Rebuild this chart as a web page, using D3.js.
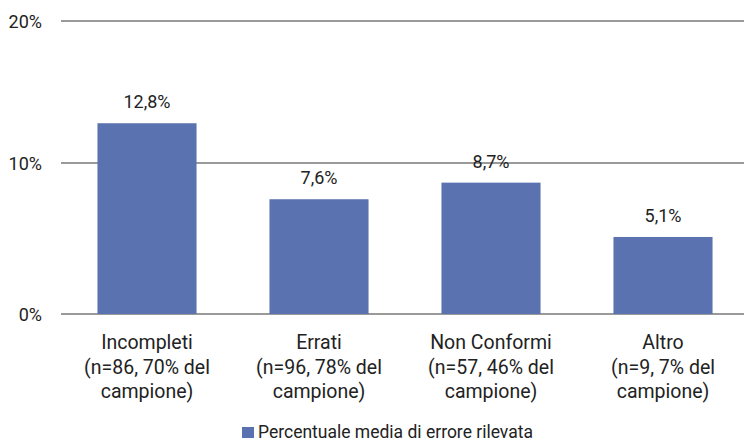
<!DOCTYPE html>
<html>
<head>
<meta charset="utf-8">
<script src="https://cdn.jsdelivr.net/npm/d3@7"></script>
<style>
  html, body { margin: 0; padding: 0; background: #fff; }
  svg text { font-family: Roboto, "Noto Sans", sans-serif; fill: #222; }
</style>
</head>
<body>
<svg id="chart" width="744" height="442"></svg>
<script>
const categories = [
  ["Incompleti", "(n=86, 70% del", "campione)"],
  ["Errati", "(n=96, 78% del", "campione)"],
  ["Non Conformi", "(n=57, 46% del", "campione)"],
  ["Altro", "(n=9, 7% del", "campione)"]
];
const values = [12.8, 7.6, 8.7, 5.1];
const valueLabels = ["12,8%", "7,6%", "8,7%", "5,1%"];
const yTicks = [0, 10, 20];
const yTickLabels = ["0%", "10%", "20%"];
const seriesName = "Percentuale media di errore rilevata";

const svg = d3.select("#chart");
const keys = categories.map((c, i) => i);

const x = d3.scaleBand().domain(keys).range([61, 749]).paddingInner(0.424).paddingOuter(0.212);
const y = d3.scaleLinear().domain([0, 10, 20]).range([314, 163, 21]);

// gridlines
svg.append("g").selectAll("line").data(yTicks).join("line")
  .attr("x1", 61).attr("x2", 744)
  .attr("y1", d => y(d)).attr("y2", d => y(d))
  .attr("stroke", "#9a9a9a").attr("stroke-width", 2);

// y labels
svg.append("g").selectAll("text").data(yTicks).join("text")
  .attr("x", 42).attr("y", d => y(d) + 6.5)
  .attr("text-anchor", "end").attr("font-size", 18)
  .text((d, i) => yTickLabels[i]);

// bars
svg.append("g").selectAll("rect").data(values).join("rect")
  .attr("x", (d, i) => x(i)).attr("width", x.bandwidth())
  .attr("y", d => y(d)).attr("height", d => y(0) - y(d))
  .attr("fill", "#5a73b0");

// value labels
svg.append("g").selectAll("text").data(values).join("text")
  .attr("x", (d, i) => x(i) + x.bandwidth() / 2)
  .attr("y", d => y(d) - 15)
  .attr("text-anchor", "middle").attr("font-size", 18)
  .text((d, i) => valueLabels[i]);

// category labels
const cat = svg.append("g").selectAll("text").data(categories).join("text")
  .attr("text-anchor", "middle").attr("font-size", 19.5);
cat.each(function(lines, i) {
  d3.select(this).selectAll("tspan").data(lines).join("tspan")
    .attr("x", x(i) + x.bandwidth() / 2)
    .attr("y", (d, j) => 349 + j * 24.5)
    .text(d => d);
});

// legend
const lg = svg.append("g");
lg.append("rect").attr("x", 242).attr("y", 427).attr("width", 12).attr("height", 11).attr("fill", "#5a73b0");
lg.append("text").attr("x", 258).attr("y", 438).attr("font-size", 17.5).text(seriesName);
</script>
</body>
</html>
